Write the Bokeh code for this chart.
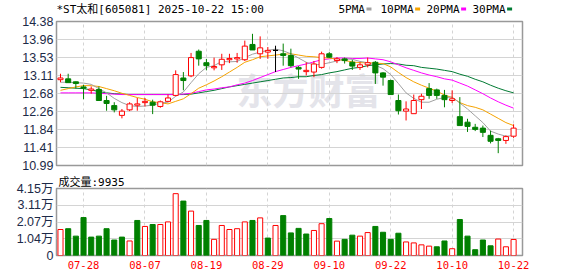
from bokeh.plotting import figure
from bokeh.layouts import column
from bokeh.models import Range1d, Label, FixedTicker, ColumnDataSource, Title
from bokeh.core.properties import value
from bokeh.embed import file_html
from bokeh.resources import INLINE

# ---------------- data ----------------
dates = ["07-23", "07-24", "07-25", "07-28", "07-29", "07-30", "07-31",
         "08-01", "08-04", "08-05", "08-06", "08-07", "08-08", "08-11", "08-12", "08-13", "08-14", "08-15",
         "08-18", "08-19", "08-20", "08-21", "08-22", "08-25", "08-26", "08-27", "08-28", "08-29",
         "09-01", "09-02", "09-03", "09-04", "09-05", "09-08", "09-09", "09-10", "09-11", "09-12",
         "09-15", "09-16", "09-17", "09-18", "09-19", "09-22", "09-23", "09-24", "09-25", "09-26",
         "09-29", "09-30", "10-09", "10-10", "10-13", "10-14", "10-15", "10-16", "10-17",
         "10-20", "10-21", "10-22"]

opens = [13.01, 13.03, 12.96, 12.84, 12.76, 12.78, 12.52, 12.40, 12.17, 12.30,
         12.41, 12.47, 12.48, 12.38, 12.50, 12.64, 13.05, 13.10, 13.68, 13.41,
         13.29, 13.36, 13.48, 13.50, 13.48, 13.84, 13.62, 13.66, 13.70, 13.62,
         13.58, 13.30, 13.20, 13.19, 13.30, 13.62, 13.46, 13.50, 13.42, 13.30,
         13.36, 13.42, 13.17, 12.99, 12.52, 12.27, 12.21, 12.54, 12.80, 12.77,
         12.64, 12.52, 12.14, 12.01, 11.89, 11.87, 11.70, 11.62, 11.58, 11.68]
highs = [13.15, 13.15, 12.97, 12.89, 12.85, 12.85, 12.63, 12.48, 12.32, 12.48,
         12.58, 12.58, 12.54, 12.52, 12.66, 13.23, 13.19, 13.64, 13.72, 13.50,
         13.53, 13.62, 13.62, 13.64, 13.93, 14.09, 14.03, 13.78, 13.81, 13.86,
         13.74, 13.33, 13.42, 13.45, 13.67, 13.66, 13.54, 13.53, 13.48, 13.42,
         13.53, 13.45, 13.19, 13.01, 12.66, 12.50, 12.66, 12.68, 12.93, 12.80,
         12.77, 12.76, 12.60, 12.09, 11.97, 11.93, 11.81, 11.64, 11.70, 11.96]
lows = [12.95, 12.94, 12.80, 12.55, 12.68, 12.52, 12.28, 12.24, 12.10, 12.27,
        12.28, 12.38, 12.20, 12.35, 12.48, 12.62, 12.76, 13.07, 13.34, 13.23,
        13.23, 13.24, 13.40, 13.41, 13.45, 13.71, 13.50, 13.50, 13.19, 13.34,
        13.30, 13.03, 13.11, 13.07, 13.27, 13.52, 13.40, 13.39, 13.24, 13.24,
        13.30, 12.91, 12.87, 12.66, 12.19, 12.05, 12.21, 12.32, 12.56, 12.56,
        12.36, 12.46, 11.93, 11.78, 11.80, 11.66, 11.51, 11.28, 11.50, 11.64]
closes = [13.05, 12.94, 12.92, 12.81, 12.79, 12.52, 12.45, 12.30, 12.27, 12.44,
          12.44, 12.50, 12.41, 12.49, 12.58, 13.13, 12.99, 13.53, 13.50, 13.34,
          13.32, 13.49, 13.51, 13.53, 13.80, 13.71, 13.76, 13.70, 13.70, 13.58,
          13.34, 13.26, 13.23, 13.38, 13.62, 13.54, 13.50, 13.46, 13.33, 13.36,
          13.41, 13.17, 13.07, 12.66, 12.28, 12.32, 12.52, 12.62, 12.64, 12.64,
          12.54, 12.56, 11.93, 11.91, 11.84, 11.77, 11.56, 11.58, 11.67, 11.87]

# volume in 万 (10k)
volumes = [1.61, 1.66, 1.20, 2.35, 1.14, 1.20, 1.66, 0.96, 1.14, 0.90,
           2.17, 1.80, 1.92, 1.92, 2.08, 3.83, 3.37, 2.75, 1.86, 2.17,
           1.00, 1.86, 1.61, 1.66, 2.08, 2.17, 2.33, 1.08, 1.86, 2.47,
           1.40, 1.68, 1.33, 1.55, 1.97, 2.29, 0.89, 1.00, 1.26, 1.20,
           1.42, 1.80, 1.44, 1.00, 1.38, 0.84, 0.78, 0.66, 0.58, 0.54,
           0.90, 0.42, 2.23, 1.20, 0.36, 0.96, 0.60, 1.02, 0.54, 0.9935]
vol_up = [1, 0, 0, 0, 0, 0, 0, 0, 0, 1,
          0, 1, 0, 1, 1, 1, 0, 1, 0, 0,
          1, 1, 1, 1, 1, 0, 1, 0, 1, 0,
          0, 0, 0, 1, 1, 0, 1, 0, 0, 1,
          1, 0, 0, 0, 0, 1, 1, 1, 1, 0,
          0, 1, 0, 0, 0, 0, 0, 1, 1, 1]

ma5 = [12.95, 12.95, 12.94, 12.93, 12.90, 12.80, 12.70, 12.57, 12.47, 12.40,
       12.38, 12.39, 12.41, 12.46, 12.48, 12.62, 12.72, 12.94, 13.15, 13.30,
       13.34, 13.44, 13.43, 13.44, 13.53, 13.61, 13.66, 13.70, 13.73, 13.69,
       13.62, 13.52, 13.42, 13.36, 13.37, 13.41, 13.45, 13.50, 13.49, 13.44,
       13.41, 13.35, 13.27, 13.13, 12.92, 12.70, 12.57, 12.48, 12.48, 12.55,
       12.59, 12.60, 12.46, 12.32, 12.16, 12.00, 11.80, 11.73, 11.68, 11.69]
ma10 = [12.76, 12.80, 12.84, 12.87, 12.87, 12.85, 12.80, 12.75, 12.69, 12.64,
        12.59, 12.55, 12.49, 12.47, 12.44, 12.50, 12.56, 12.68, 12.81, 12.89,
        12.98, 13.08, 13.19, 13.30, 13.42, 13.48, 13.55, 13.57, 13.59, 13.61,
        13.62, 13.59, 13.56, 13.55, 13.53, 13.52, 13.49, 13.46, 13.43, 13.41,
        13.41, 13.40, 13.39, 13.31, 13.18, 13.06, 12.96, 12.88, 12.81, 12.74,
        12.65, 12.59, 12.47, 12.40, 12.36, 12.30, 12.20, 12.10, 12.00, 11.93]
ma20 = [12.70, 12.70, 12.70, 12.70, 12.70, 12.69, 12.68, 12.67, 12.66, 12.66,
        12.66, 12.66, 12.66, 12.66, 12.66, 12.66, 12.67, 12.69, 12.73, 12.77,
        12.79, 12.82, 12.84, 12.89, 12.93, 12.99, 13.06, 13.13, 13.20, 13.25,
        13.30, 13.34, 13.38, 13.43, 13.48, 13.50, 13.52, 13.52, 13.51, 13.51,
        13.52, 13.50, 13.48, 13.43, 13.36, 13.29, 13.23, 13.17, 13.12, 13.08,
        13.03, 13.00, 12.93, 12.86, 12.77, 12.68, 12.58, 12.49, 12.41, 12.34]
ma30 = [12.83, 12.82, 12.81, 12.80, 12.77, 12.73, 12.70, 12.68, 12.67, 12.66,
        12.66, 12.66, 12.66, 12.66, 12.66, 12.66, 12.66, 12.67, 12.70, 12.73,
        12.76, 12.80, 12.84, 12.87, 12.90, 12.93, 12.96, 12.99, 13.02, 13.05,
        13.06, 13.08, 13.08, 13.11, 13.13, 13.17, 13.20, 13.24, 13.28, 13.30,
        13.34, 13.36, 13.38, 13.39, 13.38, 13.35, 13.34, 13.30, 13.28, 13.26,
        13.23, 13.20, 13.14, 13.09, 13.02, 12.96, 12.88, 12.81, 12.75, 12.70]

price_ticks = [10.99, 11.41, 11.84, 12.26, 12.68, 13.11, 13.53, 13.96, 14.38]
vol_ticks = [0, 1.04, 2.07, 3.11, 4.15]
vol_tick_labels = ["0", "1.04万", "2.07万", "3.11万", "4.15万"]
x_tick_dates = ["07-28", "08-07", "08-19", "08-29", "09-10", "09-22", "10-10", "10-22"]

title_text = "*ST太和[605081] 2025-10-22 15:00"
legend_names = ["5PMA", "10PMA", "20PMA", "30PMA"]
ma_colors = ["#a0a0a0", "#f5a300", "#ff00ff", "#007a33"]
vol_title = "成交量:9935"

# ---------------- styles / layout constants ----------------
RED = "#ff0000"
GREEN = "#008000"
GRID = "#d4d4d4"
BORDER = "#999999"
LABEL_C = "#1c2a48"
MONO = "DejaVu Sans Mono, Noto Sans CJK SC"
SANS = "Liberation Sans, Noto Sans CJK SC"
W = 578
BL, BR = 56, 56          # left / right borders (frame spans 56..522)
FW = W - BL - BR

n = len(dates)
xs = list(range(n))
x_ticks = [dates.index(d) for d in x_tick_dates]
x_range = Range1d(-0.52, n + 0.16)

# ---------------- header strip (title + MA legend) ----------------
HEAD_H = 15
ph = figure(width=W, height=HEAD_H, x_range=Range1d(0, FW), y_range=Range1d(0, HEAD_H),
            output_backend="svg", toolbar_location=None, title=None,
            min_border_left=BL, min_border_right=BR, min_border_top=0, min_border_bottom=0,
            x_axis_location=None, y_axis_location=None)
ph.xgrid.visible = False
ph.ygrid.visible = False
ph.outline_line_color = None
ph.text(x=[0], y=[6], text=[title_text], text_font=value(MONO), text_font_size="11px",
        text_baseline="middle", text_color="#000000")
leg_left = [282, 324, 370, 416]      # measured from the frame's left edge
char_w = 6.62
ph.text(x=leg_left, y=[6] * 4, text=legend_names, text_font=value(MONO), text_font_size="11px",
        text_baseline="middle", text_color="#000000")
sq_l = [lx + len(nm) * char_w + 1.5 for lx, nm in zip(leg_left, legend_names)]
ph.quad(left=sq_l, right=[s + 5 for s in sq_l], bottom=[5] * 4, top=[8] * 4,
        fill_color=ma_colors, line_color=None)

# ---------------- price panel ----------------
body_top = [max(o, c) for o, c in zip(opens, closes)]
body_bot = [min(o, c) for o, c in zip(opens, closes)]
col = [RED if c > o else (GREEN if c < o else "#000000") for o, c in zip(opens, closes)]
fill = ["white" if c > o else k for o, c, k in zip(opens, closes, col)]
src = ColumnDataSource(dict(x=xs, high=highs, low=lows, top=body_top, bot=body_bot,
                            col=col, fill=fill))

p1 = figure(width=W, height=158, x_range=x_range, y_range=Range1d(price_ticks[0], price_ticks[-1]),
            output_backend="svg", toolbar_location=None,
            min_border_left=BL, min_border_right=BR, min_border_top=6, min_border_bottom=8)
p1.xaxis.visible = False
p1.xgrid.ticker = FixedTicker(ticks=x_ticks)
p1.xgrid.grid_line_color = GRID
p1.xgrid.grid_line_dash = "3 3"
p1.ygrid.grid_line_color = GRID
p1.yaxis.ticker = FixedTicker(ticks=price_ticks)
p1.yaxis.major_label_overrides = {t: f"{t:.2f}" for t in price_ticks}
p1.yaxis.axis_line_color = None
p1.yaxis.major_tick_line_color = None
p1.yaxis.minor_tick_line_color = None
p1.yaxis.major_tick_out = 0
p1.yaxis.major_label_standoff = 3
p1.yaxis.major_label_text_font = SANS
p1.yaxis.major_label_text_font_size = "12.5px"
p1.yaxis.major_label_text_color = LABEL_C
p1.outline_line_color = BORDER
p1.outline_line_width = 1.5

# watermark
p1.add_layout(Label(x=252, y=77, x_units="screen", y_units="screen", text="东方财富",
                    text_font="Noto Sans CJK SC", text_font_style="bold",
                    text_font_size="36px", text_color="#e4e4ea", text_align="center",
                    text_baseline="middle", level="image"))

# MA lines
for m, c in zip([ma30, ma20, ma10, ma5], ma_colors[::-1]):
    p1.line(xs, m, line_color=c, line_width=1)

# candles: wicks then bodies
p1.segment(x0="x", y0="high", x1="x", y1="top", line_color="col", line_width=1, source=src)
p1.segment(x0="x", y0="bot", x1="x", y1="low", line_color="col", line_width=1, source=src)
p1.vbar(x="x", top="top", bottom="bot", width=0.66, fill_color="fill", line_color="col",
        line_width=1, source=src)

# ---------------- volume panel ----------------
vsrc = ColumnDataSource(dict(x=xs, v=volumes,
                             col=[RED if u else GREEN for u in vol_up],
                             fill=["white" if u else GREEN for u in vol_up]))
p2 = figure(width=W, height=103, x_range=x_range, y_range=Range1d(vol_ticks[0], vol_ticks[-1]),
            output_backend="svg", toolbar_location=None,
            min_border_left=BL, min_border_right=BR, min_border_top=13, min_border_bottom=21)
p2.title = Title(text=vol_title, align="left", offset=2, standoff=0,
                 text_font=MONO, text_font_size="11px", text_font_style="normal",
                 text_color="#000000")
p2.vbar(x="x", top="v", bottom=0, width=0.66, fill_color="fill", line_color="col",
        line_width=1, source=vsrc)
p2.xaxis.ticker = FixedTicker(ticks=x_ticks)
p2.xaxis.major_label_overrides = {i: d for i, d in zip(x_ticks, x_tick_dates)}
p2.xaxis.axis_line_color = None
p2.xaxis.major_tick_line_color = None
p2.xaxis.minor_tick_line_color = None
p2.xaxis.major_tick_out = 0
p2.xaxis.major_label_standoff = 5
p2.xaxis.major_label_text_font = MONO
p2.xaxis.major_label_text_font_size = "10.5px"
p2.xaxis.major_label_text_color = RED
p2.xgrid.grid_line_color = GRID
p2.xgrid.grid_line_dash = "3 3"
p2.ygrid.grid_line_color = GRID
p2.yaxis.ticker = FixedTicker(ticks=vol_ticks)
p2.yaxis.major_label_overrides = {t: s for t, s in zip(vol_ticks, vol_tick_labels)}
p2.yaxis.axis_line_color = None
p2.yaxis.major_tick_line_color = None
p2.yaxis.minor_tick_line_color = None
p2.yaxis.major_tick_out = 0
p2.yaxis.major_label_standoff = 3
p2.yaxis.major_label_text_font = SANS
p2.yaxis.major_label_text_font_size = "12.5px"
p2.yaxis.major_label_text_color = LABEL_C
p2.outline_line_color = BORDER
p2.outline_line_width = 1.5

layout = column(ph, p1, p2, spacing=0)
open("out.html", "w").write(file_html(layout, INLINE))
